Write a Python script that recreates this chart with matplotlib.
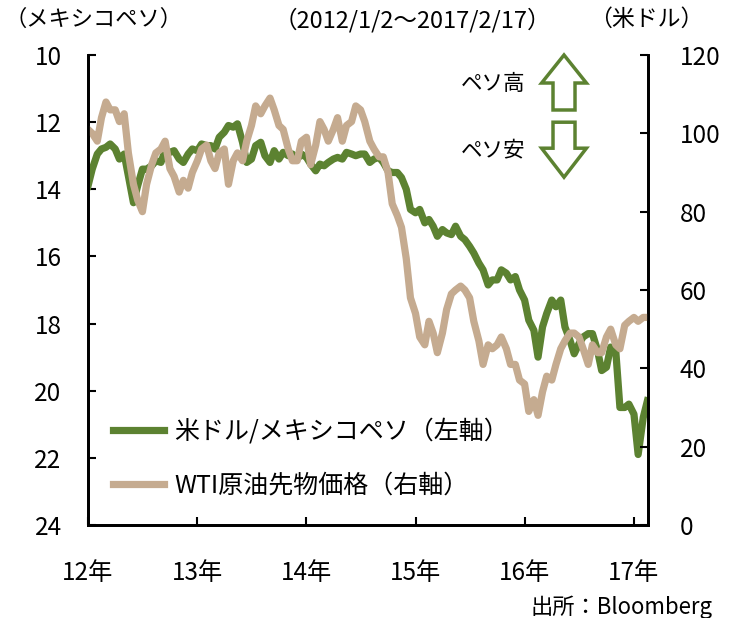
import matplotlib
matplotlib.use('Agg')
import matplotlib.pyplot as plt
import matplotlib.patches as mpatches
import pandas as pd

plt.rcParams['font.family'] = ['Noto Sans CJK JP', 'DejaVu Sans']

#############################################################################
# data: semi-monthly samples (1st and 15th of each month)
#############################################################################

dates = pd.date_range('2012-01-01', '2017-02-15', freq='SMS')

peso_2012 = [13.9, 13.4, 12.95, 12.8, 12.75, 12.65, 12.8, 13.1, 12.95, 13.6, 14.4, 13.9,
             13.4, 13.4, 13.3, 13.15, 13.2, 12.85, 12.9, 12.85, 13.1, 13.2, 12.95, 12.8]
peso_2013 = [12.85, 12.65, 12.7, 12.7, 12.8, 12.45, 12.3, 12.1, 12.15, 12.05, 12.6, 13.2,
             13.1, 12.7, 12.6, 13.0, 13.2, 12.85, 13.1, 12.9, 13.0, 12.95, 13.1, 12.95]
peso_2014 = [13.05, 13.25, 13.45, 13.25, 13.3, 13.2, 13.1, 13.05, 13.1, 12.9, 12.95, 13.0,
             12.95, 12.95, 13.2, 13.1, 13.05, 13.2, 13.45, 13.5, 13.5, 13.65, 14.0, 14.6]
peso_2015 = [14.7, 14.6, 15.0, 14.9, 15.1, 15.4, 15.2, 15.3, 15.35, 15.1, 15.4, 15.5,
             15.7, 15.9, 16.2, 16.4, 16.85, 16.7, 16.7, 16.4, 16.5, 16.7, 16.6, 17.0]
peso_2016 = [17.3, 17.9, 18.2, 19.0, 18.1, 17.7, 17.3, 17.5, 17.3, 18.1, 18.5, 18.9,
             18.6, 18.4, 18.3, 18.3, 18.8, 19.4, 19.3, 18.7, 18.8, 20.5, 20.5, 20.4]
peso_2017 = [20.7, 21.9, 20.8, 20.3]

wti_2012 = [101, 100, 98, 104, 108, 106, 106, 103, 105, 95, 87, 83,
            80, 87, 92, 95, 96, 98, 91, 89, 85, 88, 86, 90]
wti_2013 = [93, 96, 97, 93, 91, 95, 96, 87, 93, 95, 93, 98,
            102, 107, 105, 107, 109, 106, 102, 101, 96, 93, 93, 98]
wti_2014 = [99, 92, 97, 103, 101, 98, 101, 104, 98, 102, 103, 107,
            106, 103, 98, 96, 94, 94, 90, 82, 79, 76, 68, 58]
wti_2015 = [54, 48, 46, 52, 49, 44, 49, 55, 59, 60, 61, 60,
            58, 52, 47, 41, 46, 45, 46, 48, 45, 41, 41, 37]
wti_2016 = [36, 29, 32, 28, 34, 38, 37, 41, 45, 47, 49, 49,
            48, 45, 41, 46, 44, 44, 48, 50, 46, 45, 51, 52]
wti_2017 = [53, 52, 53, 53]

peso = peso_2012 + peso_2013 + peso_2014 + peso_2015 + peso_2016 + peso_2017
wti = wti_2012 + wti_2013 + wti_2014 + wti_2015 + wti_2016 + wti_2017

year_ticks = pd.to_datetime(['2012-01-01', '2013-01-01', '2014-01-01',
                             '2015-01-01', '2016-01-01', '2017-01-01'])
year_labels = ['12年', '13年', '14年', '15年', '16年', '17年']

GREEN = '#5c8231'
TAN = '#c5ab90'

#############################################################################

fig = plt.figure(figsize=(7.41, 6.18), dpi=100)
ax = fig.add_axes([0.1188, 0.1505, 0.7557, 0.7605])

ax.plot(dates, peso, color=GREEN, linewidth=5.2, solid_joinstyle='round',
        label='米ドル/メキシコペソ（左軸）')
ax.set_ylim(24, 10)
ax.set_yticks(range(10, 25, 2))
ax.set_xlim(pd.Timestamp('2012-01-01'), pd.Timestamp('2017-02-17'))
ax.set_xticks(year_ticks)
ax.set_xticklabels(year_labels)

ax2 = ax.twinx()
ax2.plot(dates, wti, color=TAN, linewidth=5.2, solid_joinstyle='round',
         label='WTI原油先物価格（右軸）')
ax2.set_ylim(0, 120)
ax2.set_yticks(range(0, 121, 20))

for a in (ax, ax2):
    a.spines['top'].set_visible(False)
    for s in ('left', 'right', 'bottom'):
        a.spines[s].set_linewidth(2.0)

ax.tick_params(axis='y', direction='in', length=6, width=1.5, pad=19, labelsize=17.5)
ax.tick_params(axis='x', direction='in', length=6, width=1.5, pad=25, labelsize=17.5)
ax2.tick_params(axis='y', direction='in', length=6, width=1.5, pad=23, labelsize=17.5)

h1, l1 = ax.get_legend_handles_labels()
h2, l2 = ax2.get_legend_handles_labels()
ax2.legend(h1 + h2, l1 + l2, loc='upper left', bbox_to_anchor=(0.045, 0.226),
           frameon=False, fontsize=18, handlelength=2.05, handletextpad=0.4,
           labelspacing=1.1, borderpad=0, borderaxespad=0)

# peso strength arrows
up = mpatches.FancyArrow(0.85, 0.883, 0, 0.117, width=0.0393, head_width=0.080,
                         head_length=0.0596, length_includes_head=True,
                         transform=ax2.transAxes, facecolor='white',
                         edgecolor=GREEN, linewidth=2.5, clip_on=False)
down = mpatches.FancyArrow(0.85, 0.857, 0, -0.117, width=0.0393, head_width=0.080,
                           head_length=0.0617, length_includes_head=True,
                           transform=ax2.transAxes, facecolor='white',
                           edgecolor=GREEN, linewidth=2.5, clip_on=False)
ax2.add_patch(up)
ax2.add_patch(down)
ax2.text(0.723, 0.938, 'ペソ高', transform=ax2.transAxes, ha='center', va='center', fontsize=15.5)
ax2.text(0.723, 0.798, 'ペソ安', transform=ax2.transAxes, ha='center', va='center', fontsize=15.5)

fig.text(0.0067, 0.968, '（メキシコペソ）', ha='left', va='center', fontsize=16)
fig.text(0.556, 0.968, '（2012/1/2～2017/2/17）', ha='center', va='center', fontsize=17)
fig.text(0.872, 0.968, '（米ドル）', ha='center', va='center', fontsize=16.5)
fig.text(0.962, 0.0065, '出所：Bloomberg', ha='right', va='baseline', fontsize=16)

fig.savefig('out.png', dpi=100)
